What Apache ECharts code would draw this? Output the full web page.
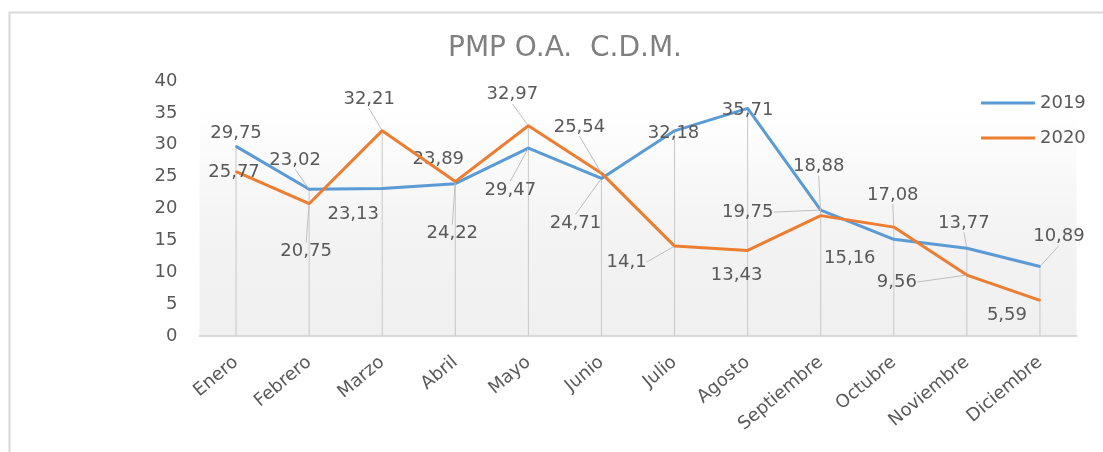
<!DOCTYPE html>
<html>
<head>
<meta charset="utf-8">
<script src="https://cdn.jsdelivr.net/npm/echarts@6/dist/echarts.min.js"></script>
<style>
html, body { margin: 0; padding: 0; background: #ffffff; }
#main { width: 1103px; height: 452px; }
</style>
</head>
<body>
<div id="main"></div>
<script>
var months = ['Enero', 'Febrero', 'Marzo', 'Abril', 'Mayo', 'Junio', 'Julio', 'Agosto', 'Septiembre', 'Octubre', 'Noviembre', 'Diciembre'];
var pmp2019 = [29.75, 23.02, 23.13, 23.89, 29.47, 24.71, 32.18, 35.71, 19.75, 15.16, 13.77, 10.89];
var pmp2020 = [25.77, 20.75, 32.21, 24.22, 32.97, 25.54, 14.1, 13.43, 18.88, 17.08, 9.56, 5.59];

// where each data label sits relative to its point (Excel moved them by hand)
var offsets2019 = [[0, -13], [-14, -29], [-29, 26], [-17, -24], [-18, 42], [-26, 45], [-1, 2], [0, 2], [-73, 2], [-44, 19], [-3, -25], [19, -30]];
var offsets2020 = [[-2, 1], [-3, 48], [-13, -31], [-3, 52], [-16, -31], [-22, -46], [-48, 16], [-11, 25], [-2, -49], [-1, -32], [-70, 7], [-33, 15]];
var leader2019 = [false, true, false, false, true, true, false, false, true, false, true, true];
var leader2020 = [false, true, true, true, true, true, true, false, true, true, true, false];

var textColor = '#595959';
var font = 'DejaVu Sans';

function placeLabel(offsets) {
    return function (params) {
        var o = offsets[params.dataIndex];
        var r = params.rect;
        return {
            x: r.x + r.width / 2 + o[0],
            y: r.y + r.height / 2 + o[1],
            align: 'center',
            verticalAlign: 'middle',
            hideOverlap: false
        };
    };
}

function withLeaders(values, leaders) {
    return values.map(function (v, i) {
        return { value: v, labelLine: { show: leaders[i] } };
    });
}

// drop lines go from the higher of the two points down to the axis
var dropLines = months.map(function (m, i) {
    return Math.max(pmp2019[i], pmp2020[i]);
});

var chart = echarts.init(document.getElementById('main'));
var option = {
    animation: false,
    title: {
        text: 'PMP O.A.  C.D.M.',
        left: 560,
        textAlign: 'center',
        top: 30,
        textStyle: {
            color: '#808080',
            fontSize: 28,
            fontWeight: 'normal',
            fontFamily: font
        }
    },
    legend: {
        orient: 'vertical',
        left: 976,
        top: 89,
        itemWidth: 54,
        itemHeight: 3,
        itemGap: 17,
        textStyle: { color: textColor, fontSize: 18, fontFamily: font },
        data: [
            { name: '2019', icon: 'rect' },
            { name: '2020', icon: 'rect' }
        ]
    },
    graphic: [{
        type: 'rect',
        left: 7,
        top: 10,
        shape: { width: 1200, height: 500 },
        style: { fill: 'none', stroke: '#d9d9d9', lineWidth: 2 },
        silent: true
    }],
    grid: {
        left: 199.5,
        right: 26.5,
        top: 81,
        bottom: 116,
        show: true,
        borderWidth: 0,
        backgroundColor: new echarts.graphic.LinearGradient(0, 0, 0, 1, [
            { offset: 0, color: '#ffffff' },
            { offset: 0.12, color: '#ffffff' },
            { offset: 0.6, color: '#f3f3f3' },
            { offset: 1, color: '#f0f0f0' }
        ])
    },
    xAxis: {
        type: 'category',
        data: months,
        axisTick: { show: false },
        axisLine: { lineStyle: { color: '#d9d9d9', width: 2 } },
        axisLabel: {
            interval: 0,
            rotate: 40,
            margin: 24,
            color: textColor,
            fontSize: 18,
            fontFamily: font
        }
    },
    yAxis: {
        type: 'value',
        min: 0,
        max: 40,
        interval: 5,
        splitLine: { show: false },
        axisLine: { show: false },
        axisTick: { show: false },
        axisLabel: {
            margin: 22,
            color: textColor,
            fontSize: 18,
            fontFamily: font
        }
    },
    series: [
        {
            name: 'drop',
            type: 'bar',
            barWidth: 1,
            silent: true,
            z: 1,
            itemStyle: { color: '#c8c8c8' },
            data: dropLines
        },
        {
            name: '2019',
            type: 'line',
            z: 3,
            symbol: 'circle',
            symbolSize: 2,
            lineStyle: { color: '#5b9bd5', width: 3 },
            itemStyle: { color: '#5b9bd5' },
            label: {
                show: true,
                color: textColor,
                fontSize: 18,
                fontFamily: font,
                formatter: function (p) { return String(p.value).replace('.', ','); }
            },
            labelLine: { show: true, lineStyle: { color: '#bfbfbf', width: 1 } },
            labelLayout: placeLabel(offsets2019),
            data: withLeaders(pmp2019, leader2019)
        },
        {
            name: '2020',
            type: 'line',
            z: 4,
            symbol: 'circle',
            symbolSize: 2,
            lineStyle: { color: '#ed7d31', width: 3 },
            itemStyle: { color: '#ed7d31' },
            label: {
                show: true,
                color: textColor,
                fontSize: 18,
                fontFamily: font,
                formatter: function (p) { return String(p.value).replace('.', ','); }
            },
            labelLine: { show: true, lineStyle: { color: '#bfbfbf', width: 1 } },
            labelLayout: placeLabel(offsets2020),
            data: withLeaders(pmp2020, leader2020)
        }
    ]
};
chart.setOption(option);
</script>
</body>
</html>
